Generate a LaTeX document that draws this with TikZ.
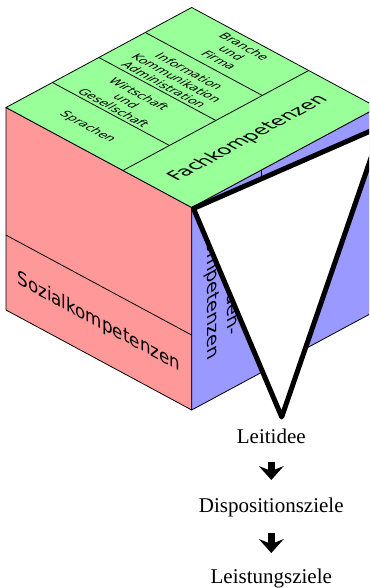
\documentclass[tikz,border=0pt]{standalone}
\usepackage{fontspec}
\setmainfont{Liberation Serif}
\newfontfamily\cubefont{DejaVu Sans}
\usetikzlibrary{arrows.meta}
\definecolor{topgreen}{HTML}{99FF99}
\definecolor{leftred}{HTML}{FF9999}
\definecolor{rightblue}{HTML}{9999FF}
\begin{document}
\begin{tikzpicture}[x=1pt,y=1pt,
  face/.style={draw=black, line width=0.8pt, line join=round},
  divider/.style={draw=black, line width=0.8pt},
  biglabel/.style={font=\cubefont\fontsize{19}{22.5}\selectfont, inner sep=0pt, align=center, transform shape},
  smalllabel/.style={font=\cubefont\fontsize{12.3}{14.4}\selectfont, inner sep=0pt, align=center, transform shape},
  funnel/.style={draw=black, fill=white, line width=5pt, line join=round},
  goal/.style={font=\fontsize{21}{24}\selectfont, inner sep=0pt, anchor=base},
  steparrow/.style={line width=7.5pt, -{Stealth[length=14pt,width=25pt,inset=5pt,line width=0pt]}}
]
\useasboundingbox (0,0) rectangle (369,588);
\clip (0,0) rectangle (369,588);
% cube corners
\coordinate (L) at (6,480.5);
\coordinate (T) at (191.7,580.5);
\coordinate (R) at (377.4,480.5);
\coordinate (F) at (191.7,380.5);
\coordinate (Lb) at (6,278);
\coordinate (Fb) at (191.7,178);
\coordinate (Rb) at (377.4,278);
% faces
\path[face, fill=leftred] (L) -- (F) -- (Fb) -- (Lb) -- cycle;
\path[face, fill=rightblue] (F) -- (R) -- (Rb) -- (Fb) -- cycle;
\path[face, fill=topgreen] (L) -- (T) -- (R) -- (F) -- cycle;
% dividers
\draw[divider] (123,417.5) -- (308.7,517.5);
\draw[divider] (52.4,505.5) -- (169.4,442.5);
\draw[divider] (98.85,530.5) -- (215.85,467.5);
\draw[divider] (145.3,555.5) -- (262.3,492.5);
\draw[divider] (6,352.9) -- (191.7,252.9);
\draw[divider] (261.5,418.1) -- (261.5,215.6);
% top face strip labels
\begin{scope}[shift={(87.5,461)}, cm={0.8805,-0.4741,0.8805,0.4741,(0,0)}]
\node[smalllabel] (sprachen) at (0,0) {Sprachen};
\end{scope}
\begin{scope}[shift={(126.5,487)}, cm={0.8805,-0.4741,0.8805,0.4741,(0,0)}]
\node[smalllabel] (wirtschaft) at (0,0) {Wirtschaft\\und\\Gesellschaft};
\end{scope}
\begin{scope}[shift={(176.7,509.7)}, cm={0.8805,-0.4741,0.8805,0.4741,(0,0)}]
\node[smalllabel] (info) at (0,0) {Information\\Kommunikation\\Administration};
\end{scope}
\begin{scope}[shift={(231.7,534.7)}, cm={0.8805,-0.4741,0.8805,0.4741,(0,0)}]
\node[smalllabel] (branche) at (0,0) {Branche\\und\\Firma};
\end{scope}
% big labels
\begin{scope}[shift={(248,449.5)}, cm={0.8805,0.4741,-0.8805,0.4741,(0,0)}]
\node[biglabel] (fach) at (0,0) {Fachkompetenzen};
\end{scope}
\begin{scope}[shift={(98.85,265.5)}, cm={0.8805,-0.4741,0,1,(0,0)}]
\node[biglabel] (sozial) at (0,0) {Sozialkompetenzen};
\end{scope}
\begin{scope}[shift={(222,299)}, cm={0,-1,0.8805,0.4741,(0,0)}]
\node[biglabel] (methoden) at (0,0) {Methoden-\\kompetenzen};
\end{scope}
% funnel
\coordinate (P1) at (193.5,379.5);
\coordinate (P2) at (382,462);
\coordinate (P3) at (281.7,171);
\draw[funnel] (P1) -- (P2) -- (P3) -- cycle;
% goals
\node[goal] (leit) at (271.3,144) {Leitidee};
\node[goal] (disp) at (271.3,75.7) {Dispositionsziele};
\node[goal] (leist) at (271.3,4.3) {Leistungsziele};
\draw[steparrow] ([yshift=-17.7pt]leit.base) -- ([yshift=32.3pt]disp.base);
\draw[steparrow] ([yshift=-20.7pt]disp.base) -- ([yshift=30.7pt]leist.base);
\end{tikzpicture}
\end{document}
